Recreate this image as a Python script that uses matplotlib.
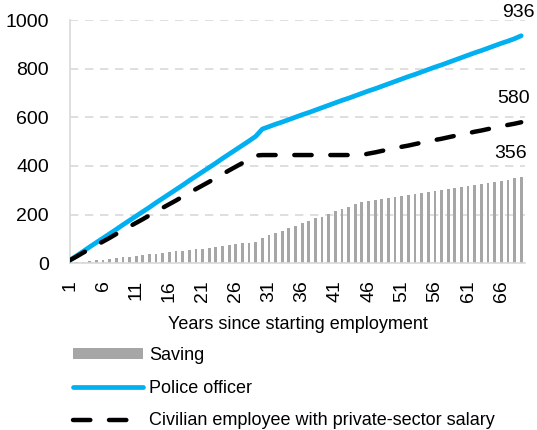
import numpy as np
import matplotlib
matplotlib.use("Agg")
import matplotlib.pyplot as plt
from matplotlib.patches import Patch
from matplotlib.lines import Line2D

plt.rcParams['font.family'] = ['Liberation Sans', 'DejaVu Sans']

# Years since starting employment (1..69)
years = list(range(1, 70))

saving = [1, 3, 6, 9, 12, 15, 18, 21, 24, 27, 30, 33, 36, 39, 42, 45, 48, 51, 54, 57,
          60, 63, 67, 71, 74, 78, 82, 84, 88,
          104, 114, 123, 134, 143, 154, 165, 174, 184, 192, 203, 213, 222, 232, 243,
          252, 256, 260, 264, 268, 273, 277, 281, 285, 289, 293, 297, 301, 305, 310,
          314, 318, 322, 326, 330, 334, 339, 344, 350, 356]

police = [12, 30, 48, 67, 85, 103, 121, 139, 158, 176, 194, 212, 230, 249, 267, 285,
          303, 321, 340, 358, 376, 394, 412, 431, 449, 467, 485, 503, 522,
          552, 562, 572, 581, 591, 601, 611, 620, 630, 640, 650, 660, 670, 679, 689,
          699, 709, 718, 728, 738, 748, 758, 768, 777, 787, 797, 807, 816, 826, 836,
          846, 856, 866, 875, 885, 895, 905, 914, 924, 936]

civilian = [12, 27, 43, 58, 74, 89, 104, 120, 135, 151, 166, 181, 197, 212, 228, 243,
            258, 274, 289, 305, 320, 335, 351, 366, 382, 397, 412, 428, 443,
            445, 445, 445, 445, 445, 445, 445, 445, 445, 445, 445, 445, 445, 445, 445, 445,
            451, 456, 462, 468, 473, 479, 484, 490, 496, 501, 507, 512, 518, 524, 529,
            535, 541, 546, 552, 557, 563, 569, 574, 580]

labels = ['Saving', 'Police officer', 'Civilian employee with private-sector salary']
xticks = list(range(1, 70, 5))

blue = '#00b0f0'
grey = '#a6a6a6'

fig = plt.figure(figsize=(5.37, 4.30), dpi=100)
ax = fig.add_axes([0.130, 0.388, 0.848, 0.565])

ax.bar(years, saving, width=0.42, color=grey, zorder=2)
ax.plot(years, police, color=blue, lw=3.4, solid_capstyle='round', zorder=3)
ax.plot(years, civilian, color='black', lw=3.2, dashes=(3.9, 4.2),
        dash_capstyle='round', zorder=4)

ax.set_xlim(1, 69.6)
ax.set_ylim(0, 1000)
ax.set_yticks([0, 200, 400, 600, 800, 1000])
ax.set_xticks(xticks)
ax.set_xticklabels([str(t) for t in xticks], rotation=90)
ax.tick_params(axis='both', length=0, labelsize=14)
ax.tick_params(axis='x', pad=12)
ax.tick_params(axis='y', pad=15)
ax.yaxis.grid(True, color='#d9d9d9', lw=1.2, dashes=(5, 4), zorder=0)
ax.set_axisbelow(True)
for s in ['top', 'right']:
    ax.spines[s].set_visible(False)
for s in ['left', 'bottom']:
    ax.spines[s].set_color('#d9d9d9')
    ax.spines[s].set_linewidth(1.2)

ax.set_xlabel('Years since starting employment', fontsize=13, labelpad=10)

# end labels
ax.annotate(str(police[-1]), (years[-1], police[-1]), xytext=(-3, 23),
            textcoords='offset pixels', ha='center', va='center', fontsize=14)
ax.annotate(str(civilian[-1]), (years[-1], civilian[-1]), xytext=(-8, 24),
            textcoords='offset pixels', ha='center', va='center', fontsize=14)
ax.annotate(str(saving[-1]), (years[-1], saving[-1]), xytext=(-11, 23),
            textcoords='offset pixels', ha='center', va='center', fontsize=14)

handles = [Patch(facecolor=grey, edgecolor='none'),
           Line2D([], [], color=blue, lw=3.4, solid_capstyle='round'),
           Line2D([], [], color='black', lw=3.2, dashes=(3.9, 4.2), dash_capstyle='round')]
fig.legend(handles, labels, loc='upper left', bbox_to_anchor=(0.119, 0.214),
           frameon=False, fontsize=13, handlelength=3.9, handleheight=0.55,
           handletextpad=0.33, labelspacing=0.87, borderpad=0)

fig.savefig('out.png', dpi=100)
